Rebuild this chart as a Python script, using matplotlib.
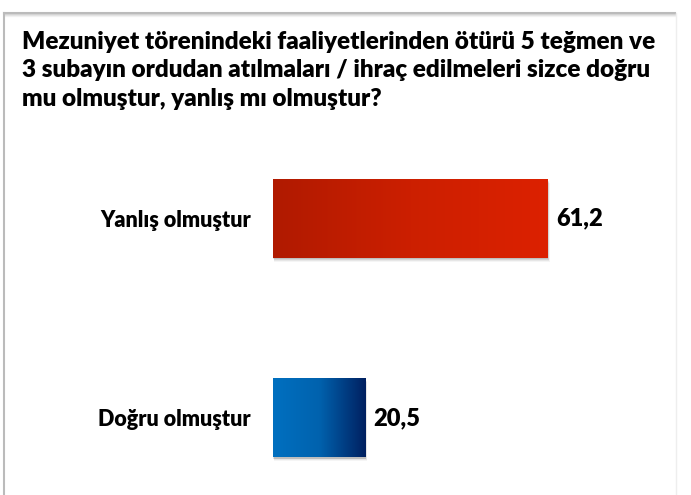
import numpy as np
import matplotlib
matplotlib.use("Agg")
import matplotlib.pyplot as plt
from matplotlib.colors import LinearSegmentedColormap
from matplotlib.lines import Line2D

plt.rcParams['font.family'] = ['Lato', 'DejaVu Sans']

# Data
title = ("Mezuniyet törenindeki faaliyetlerinden ötürü 5 teğmen ve\n"
         "3 subayın ordudan atılmaları / ihraç edilmeleri sizce doğru\n"
         "mu olmuştur, yanlış mı olmuştur?")
categories = ["Doğru olmuştur", "Yanlış olmuştur"]
values = [20.5, 61.2]
value_labels = ["20,5", "61,2"]
gradients = [["#0070C0", "#0062AE", "#002060"],
             ["#B01A00", "#CC1F00", "#DC2100"]]

W, H = 691, 495
fig = plt.figure(figsize=(W / 100, H / 100), dpi=100)

# axes placed in pixel units
ax_left, ax_right = 273, 677
ax_top, ax_bot = 130, 495
ax = fig.add_axes([ax_left / W, 1 - ax_bot / H, (ax_right - ax_left) / W, (ax_bot - ax_top) / H])
ax.set_xlim(0, 90)
ax.set_ylim(-0.386, 1.4436)

ypos = np.arange(len(categories))
bar_h = 0.396
bars = ax.barh(ypos, values, height=bar_h, color="none", edgecolor="none", zorder=3)

grad = np.linspace(0, 1, 256).reshape(1, -1)
for b, cols in zip(bars, gradients):
    x0, y0, w, h = b.get_x(), b.get_y(), b.get_width(), b.get_height()
    # soft shadow
    for i, a in enumerate([0.10, 0.08, 0.06, 0.04]):
        dx = 0.25 + i * 0.18
        dy = 0.006 + i * 0.004
        ax.add_patch(plt.Rectangle((x0 + dx * 0.3, y0 - dy), w + dx * 0.3, h, color="black",
                                   alpha=a, lw=0, zorder=1))
    cmap = LinearSegmentedColormap.from_list("g", cols)
    im = ax.imshow(grad, cmap=cmap, aspect="auto", extent=(x0, x0 + w, y0, y0 + h), zorder=2)
    im.set_clip_path(b)

for y, v, lab in zip(ypos, values, value_labels):
    ax.text(v + 1.9, y, lab, va="center", ha="left", fontsize=17, fontweight="heavy", color="black")

ax.set_yticks(ypos)
ax.set_yticklabels(categories, fontsize=15.5, fontweight="heavy")
ax.tick_params(axis="y", length=0, pad=16)
ax.set_xticks([])
for s in ax.spines.values():
    s.set_visible(False)
ax.patch.set_alpha(0)

fig.text(22 / W, 1 - 31 / H, title, ha="left", va="top", fontsize=17.5, fontweight="heavy",
         linespacing=1.36)

# frame lines with light shadow
def px(x, y):
    return x / W, 1 - y / H

for off, a in [(3, 0.08), (2, 0.15), (1, 0.3)]:
    fig.add_artist(Line2D([px(4, 0)[0], px(675, 0)[0]], [px(0, 13 + off)[1]] * 2,
                          color="gray", alpha=a, lw=1))
fig.add_artist(Line2D([px(4, 0)[0], px(675, 0)[0]], [px(0, 13)[1]] * 2, color="#BBBBBB", lw=1.5))
fig.add_artist(Line2D([px(4, 0)[0]] * 2, [px(0, 13)[1], 0], color="#BBBBBB", lw=1.5))
fig.add_artist(Line2D([px(676, 0)[0]] * 2, [px(0, 13)[1], 0], color="#EEEEEE", lw=1))

fig.savefig("out.png", dpi=100)
